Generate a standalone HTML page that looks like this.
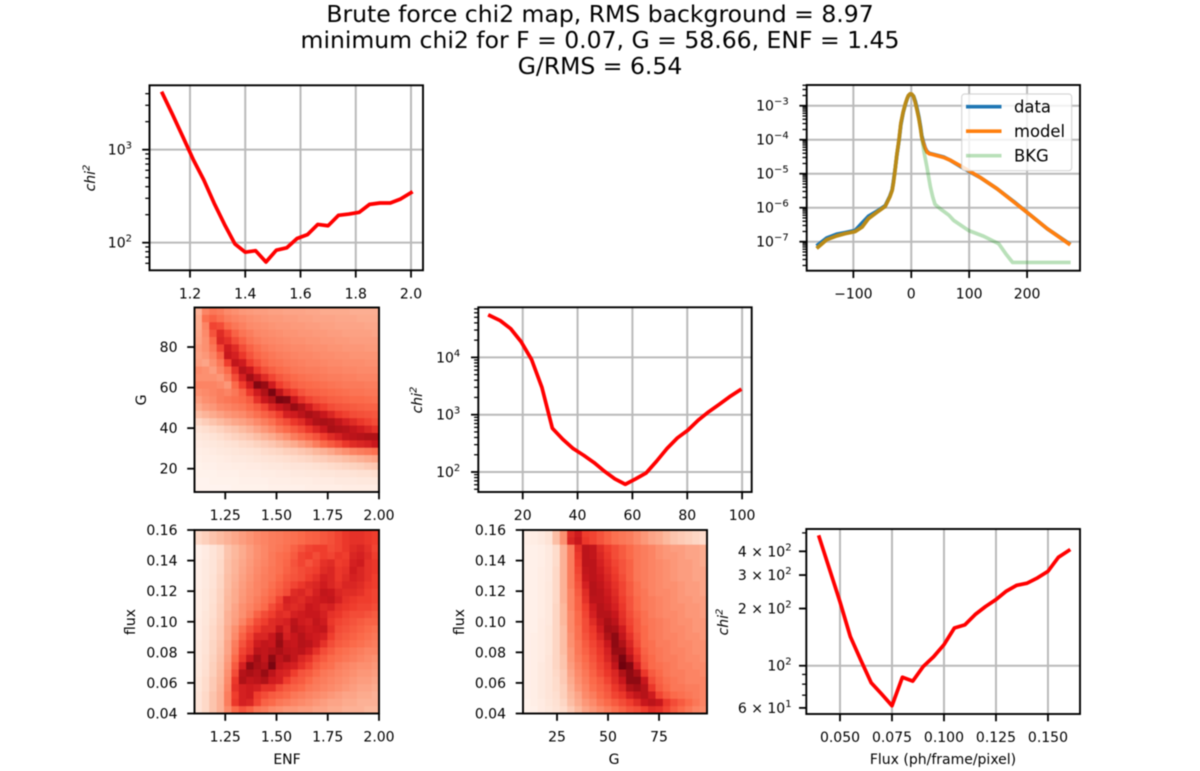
<!DOCTYPE html>
<html lang="en">
<head>
<meta charset="utf-8">
<title>Brute force chi2 map</title>
<style>
html,body{margin:0;padding:0;background:#fff;width:1200px;height:771px;overflow:hidden}
svg{display:block;filter:blur(0.4px)}
text{font-family:"DejaVu Sans","Liberation Sans",sans-serif;fill:#000}
</style>
</head>
<body>
<svg id="figure" width="1200" height="771" viewBox="0 0 1200 771" xmlns="http://www.w3.org/2000/svg">
<rect width="1200" height="771" fill="#fff"/>
<g text-anchor="middle" font-size="23.5">
<text x="600" y="22">Brute force chi2 map, RMS background = 8.97</text>
<text x="600" y="48">minimum chi2 for F = 0.07, G = 58.66, ENF = 1.45</text>
<text x="600" y="74">G/RMS = 6.54</text>
</g>
</svg>
<script>
const enfValues = [1.1,1.1375,1.175,1.2125,1.25,1.2875,1.325,1.3625,1.4,1.4375,1.475,1.5125,1.55,1.5875,1.625,1.6625,1.7,1.7375,1.775,1.8125,1.85,1.8875,1.925,1.9625,2.0];
const enfChi2 = [4035,2360,1357,774,472,265,157,97,79,82,62,83,88,111,122,157,152,197,203,212,258,267,267,295,345];
const gValues = [8,11.8,15.6,19.4,23.2,27,30.8,34.6,38.4,42.2,46,49.8,53.6,57.4,61.2,65,68.8,72.6,76.4,80.2,84,87.8,91.6,95.4,99.2];
const gChi2 = [53600,43800,31700,18800,9230,2990,581,373,256,196,146,103,76,61,76,96,154,256,393,535,802,1122,1507,2050,2690];
const fluxValues = [0.04,0.045,0.05,0.055,0.06,0.065,0.07,0.075,0.08,0.085,0.09,0.095,0.1,0.105,0.11,0.115,0.12,0.125,0.13,0.135,0.14,0.145,0.15,0.155,0.16];
const fluxChi2 = [475,321,217,142,107,81.4,71,61.6,87,83,99,111.5,129,158,164,186,205,223,247,265,272,290,314,372,404];

const histX = [-161,-146,-129,-114,-97,-85,-74,-59,-45,-37,-33,-31,-28,-25,-21,-18,-14,-10,-7,-5,-2,1,4,7,10,13,16,18,21,24,27,31,36,56,67,88,119,148,177,206,235,272];
const histDataLog = [-7.09,-6.89,-6.78,-6.73,-6.67,-6.45,-6.25,-6.10,-5.94,-5.66,-5.47,-5.25,-4.88,-4.47,-4.00,-3.56,-3.20,-2.95,-2.79,-2.71,-2.66,-2.67,-2.72,-2.87,-3.08,-3.32,-3.62,-3.87,-4.07,-4.24,-4.34,-4.40,-4.42,-4.51,-4.60,-4.82,-5.11,-5.44,-5.82,-6.22,-6.62,-7.05];
const histModelLog = [-7.16,-6.94,-6.83,-6.76,-6.70,-6.57,-6.32,-6.13,-5.96,-5.68,-5.49,-5.29,-4.90,-4.45,-3.97,-3.52,-3.18,-2.93,-2.78,-2.70,-2.65,-2.66,-2.73,-2.91,-3.13,-3.37,-3.67,-3.91,-4.11,-4.26,-4.36,-4.41,-4.43,-4.52,-4.60,-4.80,-5.11,-5.44,-5.83,-6.22,-6.62,-7.06];
const bkgX = [-161,-146,-129,-114,-97,-85,-74,-59,-45,-37,-33,-31,-28,-25,-21,-18,-14,-10,-7,-5,-2,1,4,7,10,13,16,18,22,27,33,37,41,50,65,73,99,125,151,163,175,272];
const bkgLog = [-7.16,-6.94,-6.83,-6.76,-6.70,-6.57,-6.32,-6.13,-5.96,-5.68,-5.49,-5.29,-4.90,-4.45,-3.97,-3.52,-3.18,-2.93,-2.78,-2.70,-2.65,-2.66,-2.73,-2.91,-3.13,-3.37,-3.67,-3.91,-4.36,-4.80,-5.39,-5.68,-5.90,-6.03,-6.22,-6.37,-6.67,-6.84,-7.06,-7.35,-7.61,-7.61];

const enfTicks = [1.2,1.4,1.6,1.8,2.0];
const enfTickLabels = ["1.2","1.4","1.6","1.8","2.0"];
const enfChi2Ticks = [100,1000];
const enfChi2TickLabels = ["10^2","10^3"];
const histXTicks = [-100,0,100,200];
const histXTickLabels = ["−100","0","100","200"];
const histYTicks = [1e-7,1e-6,1e-5,1e-4,1e-3];
const histYTickLabels = ["10^−7","10^−6","10^−5","10^−4","10^−3"];
const gTicks = [20,40,60,80,100];
const gTickLabels = ["20","40","60","80","100"];
const gChi2Ticks = [100,1000,10000];
const gChi2TickLabels = ["10^2","10^3","10^4"];
const fluxTicks = [0.05,0.075,0.1,0.125,0.15];
const fluxTickLabels = ["0.050","0.075","0.100","0.125","0.150"];
const fluxChi2Ticks = [60,100,200,300,400];
const fluxChi2TickLabels = ["6 × 10^1","10^2","2 × 10^2","3 × 10^2","4 × 10^2"];
const heatEnfTicks = [1.25,1.5,1.75,2.0];
const heatEnfTickLabels = ["1.25","1.50","1.75","2.00"];
const heatGYTicks = [20,40,60,80];
const heatGYTickLabels = ["20","40","60","80"];
const heatFluxTicks = [0.04,0.06,0.08,0.10,0.12,0.14,0.16];
const heatFluxTickLabels = ["0.04","0.06","0.08","0.10","0.12","0.14","0.16"];
const heatGXTicks = [25,50,75];
const heatGXTickLabels = ["25","50","75"];

const heatGvsEnf = [
[28,42,46,44,40,38,36,35,34,34,33,33,32,32,32,31,31,30,30,30,30,29,29,29,29],
[30,48,52,48,44,42,40,38,37,36,35,35,34,34,33,33,32,32,32,31,31,31,30,30,30],
[30,42,60,58,50,46,43,40,39,38,37,36,36,35,35,34,34,33,33,32,32,32,32,31,31],
[31,40,56,68,60,52,47,44,41,40,39,38,37,37,36,36,35,35,34,34,33,33,33,33,32],
[32,38,50,70,66,58,52,47,44,42,41,40,39,38,38,37,37,36,36,35,35,34,34,34,34],
[34,38,46,60,74,68,58,52,48,45,43,42,41,40,40,39,38,38,37,37,36,36,36,35,35],
[33,36,42,52,76,72,64,56,51,48,46,44,43,42,41,41,40,39,39,38,38,37,37,37,37],
[34,32,38,46,62,78,74,62,56,51,48,47,45,44,43,42,42,41,40,40,39,39,39,38,38],
[40,38,34,42,50,66,82,76,64,57,53,50,48,46,45,44,44,43,42,42,41,41,40,40,40],
[38,38,38,36,44,58,72,88,78,68,60,55,52,50,48,47,46,45,44,44,43,43,42,42,42],
[42,42,42,40,36,50,62,74,94,90,74,62,57,53,51,50,49,48,47,46,45,45,45,44,44],
[38,40,42,44,42,46,52,64,74,84,96,80,68,62,56,53,52,51,50,49,48,47,47,46,46],
[34,38,40,44,46,48,50,54,66,76,84,96,94,76,66,60,57,55,53,52,51,50,50,49,48],
[30,34,36,40,42,44,46,50,54,60,70,76,82,90,84,74,66,62,58,56,55,54,53,52,52],
[24,27,30,33,36,38,40,44,48,52,56,62,72,74,80,86,82,76,70,64,61,58,57,56,55],
[16,19,22,25,28,31,33,36,40,44,48,54,58,64,68,76,84,86,84,78,72,68,64,61,58],
[11,13,15,17,20,22,25,28,32,36,40,46,50,54,58,64,70,76,86,84,82,78,74,70,66],
[8,9,11,13,15,17,19,21,24,27,30,34,38,44,48,52,56,62,68,72,78,80,82,84,84],
[6,7,8,9,11,12,14,15,17,19,21,24,27,30,34,38,44,50,54,58,64,68,70,72,76],
[4,5,6,7,8,9,10,11,12,14,15,16,18,19,21,23,26,28,31,35,38,42,44,46,48],
[3,4,4,5,6,7,7,8,9,10,11,12,13,14,15,16,18,19,21,22,24,26,28,30,32],
[2,3,3,4,4,5,5,6,6,7,8,8,9,10,10,11,12,13,14,15,16,17,18,20,21],
[2,2,2,3,3,3,4,4,4,5,5,6,6,7,7,8,8,9,9,10,10,11,12,12,13],
[1,1,2,2,2,2,3,3,3,3,4,4,4,5,5,5,6,6,6,7,7,7,8,8,8],
[1,1,1,1,1,2,2,2,2,2,3,3,3,3,3,4,4,4,4,4,5,5,5,5,5]
];
const heatFluxVsEnf = [
[15,18,22,25,28,31,34,37,40,42,44,45,47,48,50,52,53,55,57,60,64,66,66,64,62],
[15,18,22,25,28,31,34,37,40,42,44,45,47,48,50,52,53,55,57,60,64,66,66,64,62],
[3,6,10,14,22,26,30,34,38,41,44,46,48,52,56,60,62,62,58,60,64,68,70,66,60],
[3,6,10,14,22,26,30,34,38,41,45,48,50,54,60,62,58,62,60,64,62,70,72,68,62],
[4,7,10,15,23,27,31,35,39,42,45,48,51,56,60,56,60,66,68,62,64,72,74,66,64],
[4,7,10,15,23,27,32,36,40,43,46,48,52,55,58,60,62,68,70,64,66,74,70,66,64],
[4,7,11,16,24,28,33,37,41,44,46,50,54,56,58,62,66,72,70,64,68,72,70,66,62],
[4,7,11,16,24,29,34,38,42,44,48,52,56,60,64,68,70,74,70,66,70,70,68,64,62],
[5,8,12,17,25,30,35,39,42,46,50,54,58,68,70,66,72,78,76,70,68,68,66,62,60],
[5,8,12,17,26,30,36,40,44,48,52,60,72,70,68,72,74,76,78,72,66,64,62,62,60],
[5,8,13,18,26,32,38,42,46,50,58,64,70,68,70,76,74,70,72,66,64,62,60,60,58],
[5,9,13,18,28,33,38,44,52,58,62,68,66,72,74,76,76,72,66,64,60,58,58,56,54],
[6,9,14,19,28,34,42,50,58,62,68,70,72,80,74,72,78,74,64,60,58,56,54,52,52],
[6,10,15,20,30,38,48,56,62,68,68,78,70,82,78,74,76,78,66,58,56,54,52,50,48],
[6,10,15,20,30,40,52,60,70,70,76,88,72,76,82,76,74,72,62,56,54,52,50,48,46],
[7,11,16,21,32,44,56,64,74,78,76,90,78,76,82,80,74,66,58,54,52,50,48,46,44],
[7,11,16,22,32,46,60,66,80,78,82,86,80,78,80,74,66,58,54,50,48,46,44,42,42],
[7,12,17,23,34,50,64,76,88,78,92,80,86,78,70,66,58,54,50,48,46,44,42,40,38],
[8,12,18,24,36,54,72,92,86,82,96,78,74,72,66,60,54,50,48,44,42,40,38,38,36],
[8,13,18,25,38,58,82,86,82,90,80,72,70,62,56,54,50,46,44,42,40,38,36,36,34],
[9,14,20,26,40,64,84,78,80,84,74,72,62,56,54,50,46,44,42,40,38,36,34,34,32],
[9,14,20,27,42,66,72,74,72,66,66,58,54,52,50,46,44,42,40,38,36,34,32,32,30],
[10,15,22,28,44,62,72,74,62,58,54,52,50,46,44,42,40,38,36,34,32,32,30,30,28],
[10,15,22,28,44,64,72,70,60,52,50,46,44,42,40,38,36,34,32,32,30,30,28,28,28],
[10,15,22,28,40,50,56,52,46,44,40,38,36,36,34,34,32,32,30,30,28,28,28,26,26]
];
const heatFluxVsG = [
[4,5,7,11,24,38,68,74,62,60,56,52,48,46,44,40,36,32,30,26,22,20,18,16,14],
[4,5,7,11,24,38,70,76,64,60,56,52,48,46,44,40,36,32,30,26,22,20,18,16,14],
[3,3,4,7,14,28,44,66,80,78,68,62,58,54,50,46,44,42,38,36,34,34,32,32,30],
[3,3,4,7,14,28,44,64,80,78,70,64,58,54,50,46,44,42,38,36,36,34,32,32,30],
[3,3,4,7,14,28,44,62,80,80,72,66,60,56,52,46,44,42,40,38,36,34,34,32,30],
[3,3,5,7,15,28,44,60,78,80,74,68,62,56,52,46,44,42,40,38,36,34,34,32,32],
[3,3,5,7,15,28,44,58,76,80,76,70,64,58,52,46,44,42,40,38,36,34,34,32,32],
[3,3,5,8,15,28,44,56,72,82,78,72,66,60,54,48,44,42,40,38,38,36,34,34,32],
[3,3,5,8,15,28,42,54,68,82,80,74,68,60,54,48,46,42,40,40,38,36,34,34,32],
[3,3,5,8,15,28,42,52,66,80,80,76,70,62,56,50,46,44,42,40,38,36,36,34,34],
[3,3,5,8,16,26,42,52,62,74,82,78,72,64,56,50,46,44,42,40,38,38,36,36,34],
[3,3,5,8,16,26,40,50,60,72,82,82,76,66,58,52,48,44,42,40,40,38,36,36,34],
[3,3,6,8,16,26,40,50,58,68,78,86,80,68,60,54,48,46,44,42,40,38,38,36,36],
[3,3,6,9,16,24,40,48,58,64,74,88,86,74,62,54,50,46,44,42,40,40,38,36,36],
[3,4,6,9,16,24,38,48,56,62,70,84,92,78,66,56,50,46,44,42,42,40,38,38,36],
[3,4,6,9,16,24,38,46,54,60,66,76,92,84,70,58,50,48,44,44,42,40,40,38,38],
[3,4,6,9,16,24,36,46,52,58,64,72,90,90,74,62,52,48,46,44,42,42,40,38,38],
[3,4,6,10,16,22,36,44,50,56,62,70,84,96,82,66,54,50,46,44,44,42,40,40,38],
[3,4,7,10,16,22,34,42,48,54,60,66,78,98,94,72,56,50,48,46,44,42,42,40,40],
[3,4,7,10,15,20,32,40,46,52,58,64,70,84,92,86,64,54,50,46,44,44,42,42,40],
[3,4,7,10,14,20,30,38,44,50,54,60,68,76,92,92,76,58,52,48,46,44,42,42,42],
[3,4,7,10,14,18,28,36,42,48,52,56,64,70,84,88,82,64,54,50,46,46,44,44,42],
[3,4,7,10,13,18,26,32,40,44,50,54,60,64,72,78,82,74,60,54,50,48,46,44,42],
[2,4,6,9,12,16,24,30,36,40,46,50,54,58,62,68,76,80,76,64,58,54,50,46,42],
[2,3,6,8,11,14,20,26,32,36,40,44,48,52,56,58,62,68,66,60,54,50,46,42,40]
];

const svg = document.getElementById('figure');
const NS = 'http://www.w3.org/2000/svg';
const redsStops = [[255,245,240],[254,224,210],[252,187,161],[252,146,114],[251,106,74],[239,59,44],[203,24,29],[165,15,21],[103,0,13]];

function make(tag, attrs, parent, name) {
  const node = document.createElementNS(NS, tag);
  for (const k in attrs) node.setAttribute(k, attrs[k]);
  
  
  parent.appendChild(node);
  return node;
}
function linearScale(d0, d1, r0, r1) {
  return v => r0 + (v - d0) / (d1 - d0) * (r1 - r0);
}
function logScale(d0, d1, r0, r1) {
  return v => r0 + (Math.log10(v) - d0) / (d1 - d0) * (r1 - r0);
}
function redsColor(v) {
  const t = Math.max(0, Math.min(1, v / 100)) * 8;
  const i = Math.min(7, Math.floor(t));
  const f = t - i;
  const a = redsStops[i], b = redsStops[i + 1];
  return 'rgb(' + [0, 1, 2].map(k => Math.round(a[k] + (b[k] - a[k]) * f)).join(',') + ')';
}
function addLabel(parent, x, y, label, anchor, name) {
  const t = make('text', {x: x, y: y, 'text-anchor': anchor, 'font-size': 14}, parent, name);
  const parts = label.split('^');
  t.appendChild(document.createTextNode(parts[0]));
  if (parts[1]) {
    const s = document.createElementNS(NS, 'tspan');
    s.setAttribute('dy', '-6');
    s.setAttribute('font-size', '10');
    s.textContent = parts[1];
    t.appendChild(s);
  }
  return t;
}
function minorLogTicks(lo, hi) {
  const out = [];
  for (let k = Math.floor(lo); k <= Math.ceil(hi); k++) {
    for (let m = 2; m < 10; m++) {
      const v = m * Math.pow(10, k);
      if (Math.log10(v) >= lo && Math.log10(v) <= hi) out.push(v);
    }
  }
  return out;
}
function drawXTicks(g, box, ticks, labels, xs) {
  ticks.forEach((v, i) => {
    const x = xs(v);
    make('line', {x1: x, x2: x, y1: box.b, y2: box.b + 7.3, stroke: '#000', 'stroke-width': 1.8}, g, 'x-tick');
    addLabel(g, x, box.b + 28, labels[i], 'middle', 'x-tick-label');
  });
}
function drawYTicks(g, box, ticks, labels, ys, gap) {
  ticks.forEach((v, i) => {
    const y = ys(v);
    make('line', {x1: box.l - 7.3, x2: box.l, y1: y, y2: y, stroke: '#000', 'stroke-width': 1.8}, g, 'y-tick');
    addLabel(g, box.l - gap, y + 5, labels[i], 'end', 'y-tick-label');
  });
}
function drawFrame(g, box) {
  make('rect', {x: box.l, y: box.t, width: box.r - box.l, height: box.b - box.t, fill: 'none', stroke: '#000', 'stroke-width': 1.9}, g, 'axes-frame');
}
function drawYTitleChi(g, x, y) {
  const t = make('text', {transform: 'translate(' + x + ',' + y + ') rotate(-90)', 'text-anchor': 'middle', 'font-size': 14, 'font-style': 'italic'}, g, 'y-axis-title');
  t.appendChild(document.createTextNode('chi'));
  const s = document.createElementNS(NS, 'tspan');
  s.setAttribute('dy', '-5.5');
  s.setAttribute('font-size', '10');
  s.textContent = '2';
  t.appendChild(s);
}
function drawYTitle(g, x, y, label) {
  const t = make('text', {transform: 'translate(' + x + ',' + y + ') rotate(-90)', 'text-anchor': 'middle', 'font-size': 14}, g, 'y-axis-title');
  t.textContent = label;
}
function drawXTitle(g, x, y, label) {
  const t = make('text', {x: x, y: y, 'text-anchor': 'middle', 'font-size': 14}, g, 'x-axis-title');
  t.textContent = label;
}
function polyline(g, xs, ys, xv, yv, color, width, opacity, name) {
  const pts = xv.map((v, i) => xs(v).toFixed(2) + ',' + ys(yv[i]).toFixed(2)).join(' ');
  return make('polyline', {points: pts, fill: 'none', stroke: color, 'stroke-width': width, 'stroke-opacity': opacity, 'stroke-linejoin': 'round', 'stroke-linecap': 'square'}, g, name);
}
function linePanel(name, box, xDom, yDom, cfg) {
  const g = make('g', {}, svg, name);
  const xs = linearScale(xDom[0], xDom[1], box.l, box.r);
  const ys = logScale(yDom[0], yDom[1], box.b, box.t);
  cfg.xTicks.forEach(v => {
    make('line', {x1: xs(v), x2: xs(v), y1: box.t, y2: box.b, stroke: '#bababa', 'stroke-width': 2}, g, 'x-grid-line');
  });
  cfg.yGrid.forEach(v => {
    make('line', {x1: box.l, x2: box.r, y1: ys(v), y2: ys(v), stroke: '#bababa', 'stroke-width': 2}, g, 'y-grid-line');
  });
  minorLogTicks(yDom[0], yDom[1]).forEach(v => {
    make('line', {x1: box.l - 4.2, x2: box.l, y1: ys(v), y2: ys(v), stroke: '#000', 'stroke-width': 1.3}, g, 'y-minor-tick');
  });
  cfg.series(g, xs, ys);
  drawXTicks(g, box, cfg.xTicks, cfg.xLabels, xs);
  drawYTicks(g, box, cfg.yTicks, cfg.yLabels, ys, cfg.gap);
  drawFrame(g, box);
  return g;
}
function heatPanel(name, box, xDom, yDom, values, cfg) {
  const g = make('g', {}, svg, name);
  const xs = linearScale(xDom[0], xDom[1], box.l, box.r);
  const ys = linearScale(yDom[0], yDom[1], box.b, box.t);
  const rows = values.length, cols = values[0].length;
  const cw = (box.r - box.l) / cols, ch = (box.b - box.t) / rows;
  values.forEach((row, r) => {
    row.forEach((v, c) => {
      make('rect', {x: box.l + c * cw, y: box.t + r * ch, width: cw + 0.4, height: ch + 0.4, fill: redsColor(v)}, g, 'heatmap-cell');
    });
  });
  drawXTicks(g, box, cfg.xTicks, cfg.xLabels, xs);
  drawYTicks(g, box, cfg.yTicks, cfg.yLabels, ys, 17);
  drawFrame(g, box);
  return g;
}

const enfPanel = linePanel('chi2-vs-enf-panel', {l: 149.5, r: 423, t: 85.3, b: 270.3}, [1.0534, 2.0434], [1.703, 3.692], {
  xTicks: enfTicks, xLabels: enfTickLabels, yTicks: enfChi2Ticks, yLabels: enfChi2TickLabels, yGrid: enfChi2Ticks, gap: 17.5,
  series: (g, xs, ys) => polyline(g, xs, ys, enfValues, enfChi2, '#ff0000', 3.7, 1, 'chi2-enf-line')
});
drawYTitleChi(enfPanel, 95, 178);

const histPanel = linePanel('histogram-panel', {l: 806.7, r: 1080, t: 85, b: 270.7}, [-180.6, 291.4], [-7.853, -2.39], {
  xTicks: histXTicks, xLabels: histXTickLabels, yTicks: histYTicks, yLabels: histYTickLabels, yGrid: histYTicks, gap: 18,
  series: (g, xs, ys) => {
    const yl = v => ys(Math.pow(10, v));
    polyline(g, xs, yl, histX, histDataLog, '#1f77b4', 3.7, 1, 'data-line');
    polyline(g, xs, yl, histX, histModelLog, '#ff7f0e', 3.7, 1, 'model-line');
    polyline(g, xs, yl, bkgX, bkgLog, '#2ca02c', 3.7, 0.33, 'bkg-line');
  }
});
const legend = make('g', {}, histPanel, 'legend');
make('rect', {x: 961.7, y: 94, width: 110, height: 76.7, rx: 3, fill: '#fff', 'fill-opacity': 0.8, stroke: '#ccc', 'stroke-opacity': 0.8, 'stroke-width': 1.2}, legend, 'legend-frame');
const legendNames = ['data', 'model', 'BKG'];
const legendColors = ['#1f77b4', '#ff7f0e', '#2ca02c'];
const legendOpacity = [1, 1, 0.33];
legendNames.forEach((label, i) => {
  const y = 106.7 + i * 24.5;
  make('line', {x1: 966, x2: 1001.5, y1: y, y2: y, stroke: legendColors[i], 'stroke-opacity': legendOpacity[i], 'stroke-width': 3.7}, legend, 'legend-swatch');
  const t = make('text', {x: 1014, y: y + 6, 'font-size': 16.4}, legend, 'legend-label');
  t.textContent = label;
});

const gPanel = linePanel('chi2-vs-g-panel', {l: 478.3, r: 751.7, t: 307.3, b: 492}, [3.8, 103.5], [1.651, 4.874], {
  xTicks: gTicks, xLabels: gTickLabels, yTicks: gChi2Ticks, yLabels: gChi2TickLabels, yGrid: gChi2Ticks, gap: 18,
  series: (g, xs, ys) => polyline(g, xs, ys, gValues, gChi2, '#ff0000', 3.7, 1, 'chi2-g-line')
});
drawYTitleChi(gPanel, 422, 400);

const fluxPanel = linePanel('chi2-vs-flux-panel', {l: 806.3, r: 1080, t: 529, b: 714}, [0.0338, 0.1654], [1.746, 2.7195], {
  xTicks: fluxTicks, xLabels: fluxTickLabels, yTicks: fluxChi2Ticks, yLabels: fluxChi2TickLabels, yGrid: [100], gap: 14.7,
  series: (g, xs, ys) => polyline(g, xs, ys, fluxValues, fluxChi2, '#ff0000', 3.7, 1, 'chi2-flux-line')
});
drawYTitleChi(fluxPanel, 728, 622);
drawXTitle(fluxPanel, 943, 764, 'Flux (ph/frame/pixel)');

const heatA = heatPanel('g-vs-enf-heatmap', {l: 194.5, r: 379, t: 307.5, b: 492}, [1.1, 2.0], [8.5, 99.5], heatGvsEnf, {
  xTicks: heatEnfTicks, xLabels: heatEnfTickLabels, yTicks: heatGYTicks, yLabels: heatGYTickLabels
});
drawYTitle(heatA, 146, 400, 'G');

const heatB = heatPanel('flux-vs-enf-heatmap', {l: 194.5, r: 379, t: 530, b: 713.5}, [1.1, 2.0], [0.04, 0.16], heatFluxVsEnf, {
  xTicks: heatEnfTicks, xLabels: heatEnfTickLabels, yTicks: heatFluxTicks, yLabels: heatFluxTickLabels
});
drawYTitle(heatB, 135, 622, 'flux');
drawXTitle(heatB, 287, 764, 'ENF');

const heatC = heatPanel('flux-vs-g-heatmap', {l: 523, r: 707, t: 530, b: 713.5}, [8.33, 98.5], [0.04, 0.16], heatFluxVsG, {
  xTicks: heatGXTicks, xLabels: heatGXTickLabels, yTicks: heatFluxTicks, yLabels: heatFluxTickLabels
});
drawYTitle(heatC, 464, 622, 'flux');
drawXTitle(heatC, 614, 764, 'G');
</script>
</body>
</html>
